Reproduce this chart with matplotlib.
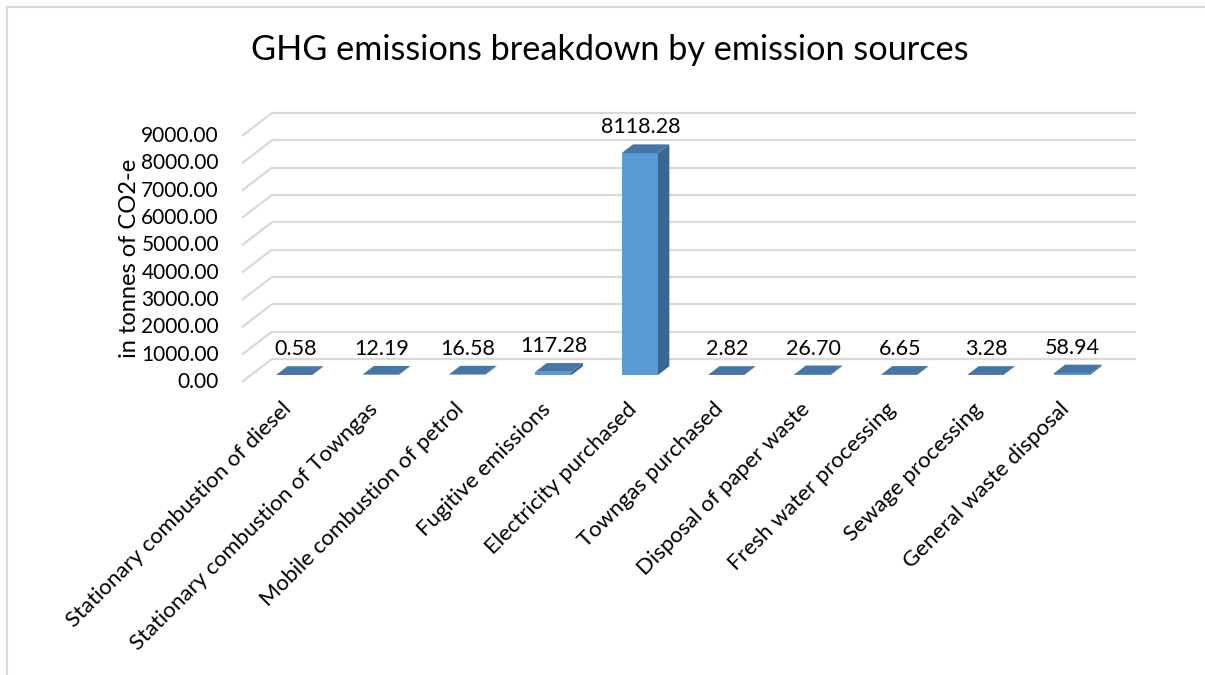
import matplotlib
matplotlib.use("Agg")
import matplotlib.pyplot as plt
from matplotlib.patches import Polygon, Rectangle
from matplotlib.transforms import ScaledTranslation

# --- chart data -----------------------------------------------------------
categories = [
    "Stationary combustion of diesel",
    "Stationary combustion of Towngas",
    "Mobile combustion of petrol",
    "Fugitive emissions",
    "Electricity purchased",
    "Towngas purchased",
    "Disposal of paper waste",
    "Fresh water processing",
    "Sewage processing",
    "General waste disposal",
]
emissions = [0.58, 12.19, 16.58, 117.28, 8118.28, 2.82, 26.70, 6.65, 3.28, 58.94]
y_ticks = [0, 1000, 2000, 3000, 4000, 5000, 6000, 7000, 8000, 9000]

title = "GHG emissions breakdown by emission sources"
y_label = "in tonnes of CO2-e"

# --- layout (pixels) ----------------------------------------------------
W, H, DPI = 1205, 675, 100
PLOT_L, PLOT_R, PLOT_T, PLOT_B = 251, 1115, 129, 375   # bar front plane
DEPTH_PX = (30, 23)          # floor depth, right / up
BAR_PLANE = 0.3              # where the bars sit inside the depth
BAR_DEPTH = 0.38
BAR_WIDTH = 0.42

FRONT = "#5b9bd5"
TOP = "#4676a6"
SIDE = "#3b6893"
GRID = "#d9d9d9"
TEXT = "#000000"
FONT = ["Lato", "DejaVu Sans"]

plt.rcParams["font.family"] = FONT

fig = plt.figure(figsize=(W / DPI, H / DPI), dpi=DPI)
ax = fig.add_axes([PLOT_L / W, 1 - PLOT_B / H,
                   (PLOT_R - PLOT_L) / W, (PLOT_B - PLOT_T) / H])
ax.set_xlim(-0.5, len(categories) - 0.5)
ax.set_ylim(0, y_ticks[-1])
ax.axis("off")

# pixel -> data unit conversion for the fake 3D depth
px_x = (PLOT_R - PLOT_L) / len(categories)
px_y = (PLOT_B - PLOT_T) / y_ticks[-1]


def depth(t):
    """Data offset for a depth fraction t measured from the bar plane."""
    return t * DEPTH_PX[0] / px_x, t * DEPTH_PX[1] / px_y


def px_offset(dx, dy):
    return ax.transData + ScaledTranslation(dx / DPI, dy / DPI, fig.dpi_scale_trans)


front_dx, front_dy = depth(-BAR_PLANE)
back_dx, back_dy = depth(1 - BAR_PLANE)
x_left = -0.5
x_right = len(categories) - 0.5

# back wall gridlines + side wall diagonals
for v in y_ticks:
    ax.plot([x_left + back_dx, x_right + back_dx], [v + back_dy, v + back_dy],
            color=GRID, lw=1.6, clip_on=False, zorder=1,
            solid_capstyle="butt")
    ax.plot([x_left + front_dx, x_left + back_dx], [v + front_dy, v + back_dy],
            color=GRID, lw=1.6, clip_on=False, zorder=1,
            solid_capstyle="butt")
    ax.text(x_left + front_dx, v + front_dy, f"{v:.2f}",
            transform=px_offset(-23, 0), ha="right", va="center",
            fontsize=15, color=TEXT)

# 3D-looking columns
bdx, bdy = depth(BAR_DEPTH)
for i, v in enumerate(emissions):
    x0 = i - BAR_WIDTH / 2
    x1 = i + BAR_WIDTH / 2
    ax.add_patch(Rectangle((x0, 0), BAR_WIDTH, v, facecolor=FRONT,
                           edgecolor="none", clip_on=False, zorder=3))
    ax.add_patch(Polygon([(x1, 0), (x1 + bdx, bdy), (x1 + bdx, v + bdy), (x1, v)],
                         closed=True, facecolor=SIDE, edgecolor="none",
                         clip_on=False, zorder=3))
    ax.add_patch(Polygon([(x0, v), (x1, v), (x1 + bdx, v + bdy), (x0 + bdx, v + bdy)],
                         closed=True, facecolor=TOP, edgecolor="none",
                         clip_on=False, zorder=4))
    ax.text(i, v + bdy, f"{v:.2f}", transform=px_offset(1, 17),
            ha="center", va="center", fontsize=15.5, color=TEXT, zorder=5)
    ax.text(i, 0, categories[i], transform=px_offset(-6, -31),
            rotation=45, rotation_mode="anchor", ha="right", va="center",
            fontsize=16, color=TEXT)

fig.text(610 / W, 1 - 50 / H, title, ha="center", va="center",
         fontsize=24.7, color=TEXT)
fig.text(130 / W, 1 - 258 / H, y_label, rotation=90, ha="center", va="center",
         fontsize=17, color=TEXT)

# chart area outline
fig.add_artist(plt.Line2D([7 / W, 7 / W], [0, 1 - 7 / H], transform=fig.transFigure,
                          color=GRID, lw=1.5))
fig.add_artist(plt.Line2D([7 / W, 1], [1 - 7 / H, 1 - 7 / H], transform=fig.transFigure,
                          color=GRID, lw=1.5))

fig.savefig("out.png", dpi=DPI, facecolor="white")
